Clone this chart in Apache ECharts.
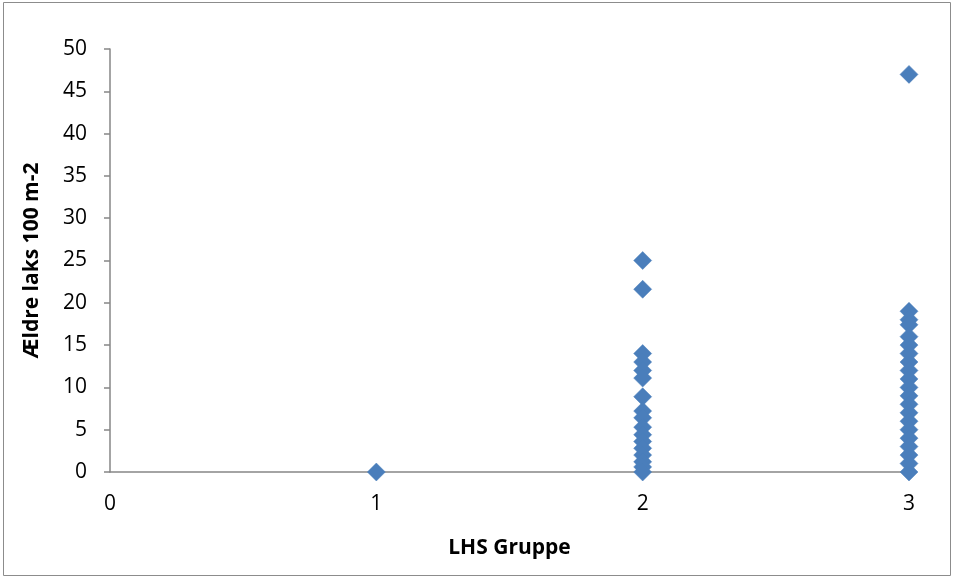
<!DOCTYPE html>
<html><head><meta charset="utf-8">
<script src="https://cdn.jsdelivr.net/npm/echarts@6/dist/echarts.min.js"></script>
<style>html,body{margin:0;padding:0;background:#fff}#c{width:954px;height:579px}</style>
</head><body><div id="c"></div>
<script>
const xTitle = 'LHS Gruppe';
const yTitle = 'Ældre laks 100 m-2';
const group1 = [0];
const group2 = [25, 21.6, 14, 13, 12, 11.1, 8.9, 7.2, 6.4, 5.3, 4.4, 3.6, 2.8, 2, 1.2, 0.6, 0];
const group3 = [47, 19, 18, 17.4, 16, 15, 14, 13, 12, 11, 10, 9, 8, 7, 6, 5, 4, 3, 2, 1, 0];
const groupIds = [1, 2, 3];

const data = [];
[group1, group2, group3].forEach((arr, i) => arr.forEach(v => data.push([groupIds[i], v])));

const font = '"Open Sans", sans-serif';
const chart = echarts.init(document.getElementById('c'), null, {renderer: 'canvas'});
chart.setOption({
  animation: false,
  backgroundColor: '#fff',
  graphic: [{type: 'rect', shape: {x: 3.5, y: 2.5, width: 947, height: 573}, style: {fill: 'none', stroke: '#8c8c8c', lineWidth: 1}, silent: true}],
  grid: {left: 110, right: 45, top: 49, bottom: 107, containLabel: false},
  xAxis: {
    type: 'value', min: 0, max: 3, interval: 1,
    name: xTitle, nameLocation: 'middle', nameGap: 66,
    nameTextStyle: {fontFamily: font, fontSize: 21, fontWeight: 'bold', color: '#000'},
    axisLine: {show: true, onZero: false, lineStyle: {color: '#868686', width: 1.5}},
    axisTick: {show: false},
    axisLabel: {fontFamily: font, fontSize: 21, color: '#000', margin: 22},
    splitLine: {show: false}
  },
  yAxis: {
    type: 'value', min: 0, max: 50, interval: 5,
    name: yTitle, nameLocation: 'middle', nameGap: 67, nameRotate: 90,
    nameTextStyle: {fontFamily: font, fontSize: 21, fontWeight: 'bold', color: '#000'},
    axisLine: {show: true, lineStyle: {color: '#868686', width: 1.5}},
    axisTick: {show: true, inside: false, length: 6, lineStyle: {color: '#868686', width: 1.5}},
    axisLabel: {fontFamily: font, fontSize: 21, color: '#000', margin: 23},
    splitLine: {show: false}
  },
  series: [{
    type: 'scatter', data: data, symbol: 'diamond', symbolSize: 18,
    itemStyle: {color: '#4A7EBB', opacity: 1, borderColor: '#4A7EBB', borderWidth: 0.5}
  }]
});
</script></body></html>
